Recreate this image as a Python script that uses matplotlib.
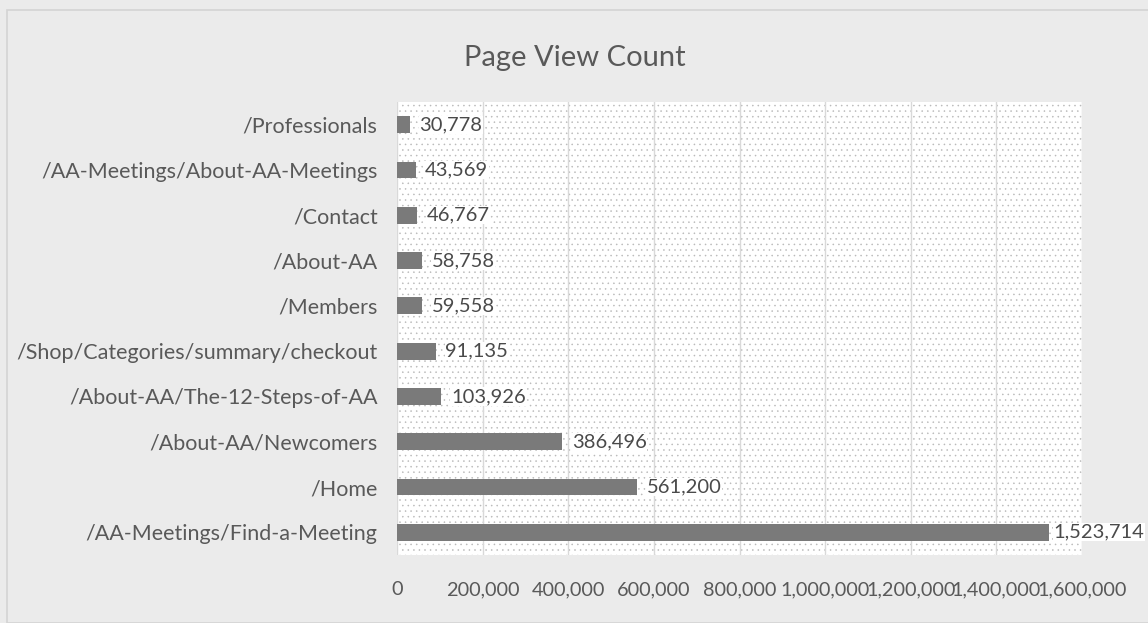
import matplotlib
matplotlib.use("Agg")
import matplotlib.pyplot as plt
from matplotlib.patches import Rectangle
from matplotlib.ticker import FuncFormatter

plt.rcParams['font.family'] = ['Lato', 'DejaVu Sans']
plt.rcParams['hatch.color'] = '#b8b8b8'
plt.rcParams['hatch.linewidth'] = 0.35

categories = ["/Professionals", "/AA-Meetings/About-AA-Meetings", "/Contact", "/About-AA",
              "/Members", "/Shop/Categories/summary/checkout", "/About-AA/The-12-Steps-of-AA",
              "/About-AA/Newcomers", "/Home", "/AA-Meetings/Find-a-Meeting"]
values = [30778, 43569, 46767, 58758, 59558, 91135, 103926, 386496, 561200, 1523714]
xticks = [0, 200000, 400000, 600000, 800000, 1000000, 1200000, 1400000, 1600000]

fig = plt.figure(figsize=(11.48, 6.23), dpi=100, facecolor='#ebebeb')
fig.patches.append(Rectangle((7/1148, 0), 1.2, (623-10)/623, transform=fig.transFigure,
                             facecolor='none', edgecolor='#d4d4d4', lw=1.2))
ax = fig.add_axes([397/1148, (623-555)/623, (1082-397)/1148, (555-102)/623])
ax.set_facecolor('white')
ax.add_patch(Rectangle((0, 0), 1, 1, transform=ax.transAxes, facecolor='white',
                       hatch='...', edgecolor='#b8b8b8', lw=0, zorder=0))
n = len(categories)
ypos = list(range(n))[::-1]
ax.barh(ypos, values, height=0.37, color='#7a7a7a', zorder=3)
vmax = max(values)
for y, v in zip(ypos, values):
    off = 10000 if v == vmax else 22000
    ax.text(v + off, y, f"{v:,}", va='center', ha='left', fontsize=14.5, color='#4a4a4a',
            bbox=dict(facecolor='white', edgecolor='none', pad=0.5), zorder=4)
ax.set_xlim(0, 1600000)
ax.set_ylim(-0.5, n - 0.5)
ax.set_xticks(xticks)
ax.xaxis.set_major_formatter(FuncFormatter(lambda x, p: f"{int(x):,}"))
ax.set_yticks(ypos)
ax.set_yticklabels(categories, fontsize=15.5)
ax.grid(axis='x', color='#d9d9d9', lw=1, zorder=1)
ax.set_axisbelow(True)
for s in ax.spines.values():
    s.set_visible(False)
ax.tick_params(axis='both', length=0, colors='#595959')
ax.tick_params(axis='x', pad=19, labelsize=14.3)
ax.tick_params(axis='y', pad=14)
fig.text(575/1148, 1 - 58/623, "Page View Count", ha='center', va='center',
         fontsize=21, color='#595959')
fig.savefig("out.png", dpi=100, facecolor=fig.get_facecolor())
